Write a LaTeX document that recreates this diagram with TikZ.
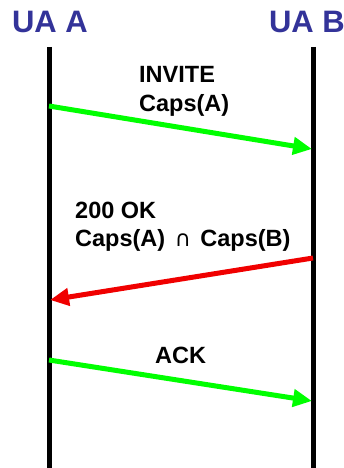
\documentclass[tikz,border=0pt]{standalone}
\usepackage{fontspec}
\setmainfont{Liberation Sans}
\newfontfamily\symfont{DejaVu Sans}
\usetikzlibrary{arrows.meta}
\definecolor{uablue}{RGB}{51,51,153}
\definecolor{msggreen}{RGB}{0,255,0}
\definecolor{msgred}{RGB}{240,0,0}
\tikzset{
  lifeline/.style={line width=5pt},
  msg/.style={line width=5pt, -{Triangle[length=19pt,width=17pt]}},
  ualabel/.style={font=\fontsize{31}{31}\selectfont\bfseries, text=uablue, inner sep=0pt, anchor=base},
  msglabel/.style={font=\fontsize{23.5}{29}\selectfont\bfseries, inner sep=0pt, anchor=base west, align=left}
}
\begin{document}
\begin{tikzpicture}[x=1pt,y=-1pt]
\useasboundingbox (0,0) rectangle (344,468);
\node[ualabel] (uaA) at (50,33) {UA A};
\node[ualabel] (uaB) at (307,33) {UA B};
\coordinate (aTop) at (49,47);
\coordinate (aBot) at (49,468);
\coordinate (bTop) at (313,47);
\coordinate (bBot) at (313,468);
\draw[lifeline] (aTop) -- (aBot);
\draw[lifeline] (bTop) -- (bBot);
% INVITE
\coordinate (m1s) at (49,106);
\coordinate (m1e) at (312,149);
\draw[msg, msggreen] (m1s) -- (m1e);
\node[msglabel] (l1a) at (139,83) {INVITE};
\node[msglabel] (l1b) at (139,112) {Caps(A)};
% 200 OK
\coordinate (m2s) at (313,258);
\coordinate (m2e) at (50,300);
\draw[msg, msgred] (m2s) -- (m2e);
\node[msglabel] (l2a) at (75,218) {200 OK};
\node[msglabel] (l2b) at (75,246) {Caps(A)\hspace{3pt} {\mdseries\symfont\fontsize{22}{22}\selectfont ∩}\hspace{3pt} Caps(B)};
% ACK
\coordinate (m3s) at (49,360);
\coordinate (m3e) at (312,401);
\draw[msg, msggreen] (m3s) -- (m3e);
\node[msglabel] (l3) at (155,363) {ACK};
\end{tikzpicture}
\end{document}
